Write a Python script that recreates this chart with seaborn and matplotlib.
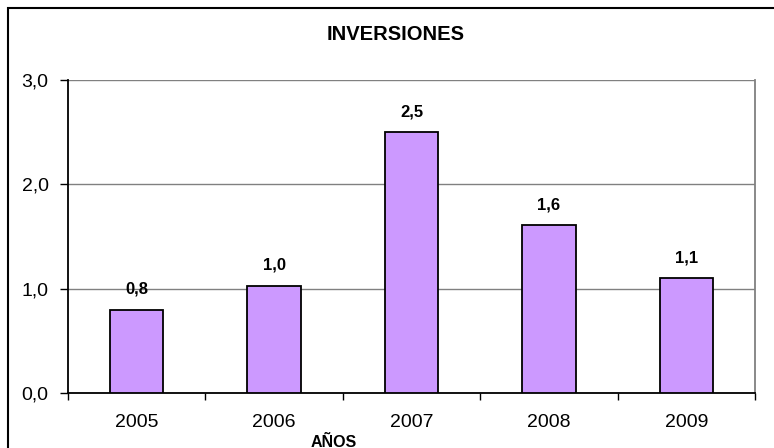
import matplotlib
matplotlib.use("Agg")
import matplotlib.pyplot as plt
from matplotlib.patches import Rectangle
from matplotlib.ticker import FixedLocator, FuncFormatter
import numpy as np
import pandas as pd
import seaborn as sns

# Data
years = ["2005", "2006", "2007", "2008", "2009"]
inversiones = [0.80, 1.03, 2.50, 1.61, 1.10]

df = pd.DataFrame({"anio": years, "valor": inversiones})

sns.set_theme(style="white")
plt.rcParams["font.family"] = ["Liberation Sans", "DejaVu Sans"]
plt.rcParams["text.color"] = "black"
plt.rcParams["xtick.color"] = "black"
plt.rcParams["ytick.color"] = "black"
plt.rcParams["axes.labelcolor"] = "black"

fig = plt.figure(figsize=(7.74, 4.48), dpi=100)
ax = fig.add_axes([68 / 774, 55 / 448, (755 - 68) / 774, (393 - 80) / 448])

sns.barplot(data=df, x="anio", y="valor", color="#CC99FF", saturation=1,
            edgecolor="black", linewidth=1.3, width=0.39, ax=ax, zorder=3)

ax.set_ylim(0, 3)
ax.set_xlim(-0.5, 4.5)
ax.set_yticks([0, 1, 2, 3])
ax.yaxis.set_major_formatter(FuncFormatter(lambda v, p: f"{v:.1f}".replace(".", ",")))
ax.yaxis.grid(True, color="#808080", linewidth=1.0, zorder=0)
ax.set_axisbelow(True)

# Excel-style ticks between categories
ax.xaxis.set_minor_locator(FixedLocator(np.arange(-0.5, 5, 1.0)))
ax.tick_params(axis="x", which="major", length=0, pad=15, labelsize=14, labelcolor="black")
ax.tick_params(axis="x", which="minor", length=5, width=1, color="black", direction="out")
ax.tick_params(axis="y", length=6, width=1, color="black", direction="out", pad=8,
               labelsize=14, left=True, labelcolor="black")
ax.tick_params(axis="x", bottom=True, which="both")

ax.set_xlabel("")
ax.set_ylabel("")

for side in ["left", "bottom"]:
    ax.spines[side].set_color("black")
    ax.spines[side].set_linewidth(1.3)
ax.spines["right"].set_color("#808080")
ax.spines["right"].set_linewidth(1.3)
ax.spines["top"].set_visible(False)

for i, v in enumerate(inversiones):
    ax.annotate(f"{v:.1f}".replace(".", ","), (i, v), xytext=(0, 14.5),
                textcoords="offset points", ha="center", va="center",
                fontsize=12, fontweight="bold", color="black")

fig.text(396 / 774, 1 - 35 / 448, "INVERSIONES", ha="center", va="center",
         fontsize=14.5, fontweight="bold", color="black")
fig.text(334 / 774, 1 - 442 / 448, "AÑOS", ha="center", va="center",
         fontsize=11.5, fontweight="bold", color="black")

# outer chart frame
fig.patches.append(Rectangle((8 / 774, -0.2), 1.2, 1.2 - 8 / 448,
                             transform=fig.transFigure, fill=False,
                             edgecolor="black", linewidth=1.5))

fig.savefig("out.png", dpi=100)
